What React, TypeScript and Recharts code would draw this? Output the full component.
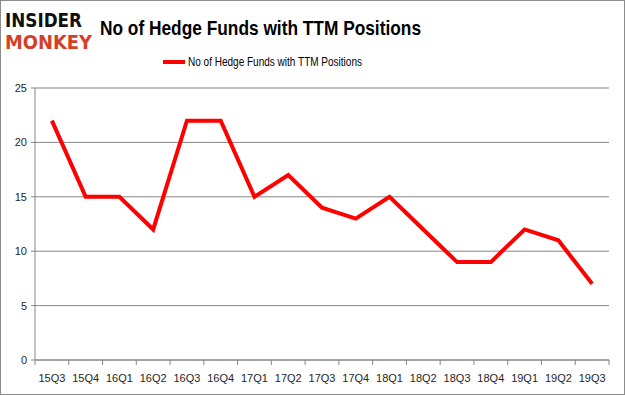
import { CartesianGrid, Line, LineChart, XAxis, YAxis } from "recharts";

const quarters = [
  "15Q3", "15Q4", "16Q1", "16Q2", "16Q3", "16Q4", "17Q1", "17Q2", "17Q3",
  "17Q4", "18Q1", "18Q2", "18Q3", "18Q4", "19Q1", "19Q2", "19Q3",
];
const funds = [22, 15, 15, 12, 22, 22, 15, 17, 14, 13, 15, 12, 9, 9, 12, 11, 7];
const yTicks = [0, 5, 10, 15, 20, 25];
const seriesName = "No of Hedge Funds with TTM Positions";

const W = 625;
const H = 395;
const M = { top: 88, right: 16, left: 0, bottom: 0 };
const Y_W = 35;
const X_H = 35;
const band = (W - Y_W - M.right) / quarters.length;

const data = quarters.map((q, i) => ({ q, v: funds[i] }));

// Excel-style axis: tick marks sit on category boundaries, labels in the middle
function XTick(props: any) {
  const { x, y, payload, index } = props;
  const axisY = y - 8;
  const left = x - band / 2;
  return (
    <g>
      <line x1={left} x2={left} y1={axisY} y2={axisY + 5} stroke="#868686" />
      {index === quarters.length - 1 && (
        <line x1={left + band} x2={left + band} y1={axisY} y2={axisY + 5} stroke="#868686" />
      )}
      <text x={x} y={axisY + 22} textAnchor="middle" fontSize={11} fill="#262626"
        fontFamily="'Liberation Sans', Arial, sans-serif">
        {payload.value}
      </text>
    </g>
  );
}

export default function App() {
  return (
    <div style={{ position: "absolute", left: 0, top: 0, width: W, height: H, background: "#fff" }}>
      <LineChart width={W} height={H} data={data} margin={M}>
        <CartesianGrid vertical={false} stroke="#868686" />
        <XAxis
          dataKey="q"
          scale="band"
          height={X_H}
          interval={0}
          stroke="#868686"
          tickLine={false}
          tick={<XTick />}
        />
        <YAxis
          width={Y_W}
          domain={[0, 25]}
          ticks={yTicks}
          stroke="#868686"
          tickSize={4}
          tickMargin={4}
          tick={{ fill: "#262626", fontSize: 11, fontFamily: "'Liberation Sans', Arial, sans-serif" }}
        />
        <Line
          dataKey="v"
          stroke="#ff0000"
          strokeWidth={4}
          dot={false}
          type="linear"
          isAnimationActive={false}
        />
      </LineChart>
      <svg width={W} height={H} style={{ position: "absolute", left: 0, top: 0, pointerEvents: "none" }}>
        <rect x={0.5} y={0.5} width={W - 1} height={H - 1} fill="none" stroke="#8c8c8c" />
        <text x={5} y={27} fontSize={19} fontWeight="bold" fill="#111"
          fontFamily="'DejaVu Sans', sans-serif" textLength={77} lengthAdjust="spacingAndGlyphs">
          INSIDER
        </text>
        <text x={5} y={49} fontSize={19} fontWeight="bold" fill="#d63f27"
          fontFamily="'DejaVu Sans', sans-serif" textLength={87} lengthAdjust="spacingAndGlyphs">
          MONKEY
        </text>
        <text x={100} y={35} fontSize={21} fontWeight="bold" fill="#000"
          fontFamily="'Liberation Sans', Arial, sans-serif" textLength={321} lengthAdjust="spacingAndGlyphs">
          No of Hedge Funds with TTM Positions
        </text>
        <line x1={163} x2={185} y1={62} y2={62} stroke="#ff0000" strokeWidth={4} />
        <text x={188} y={66} fontSize={12} fill="#000"
          fontFamily="'Liberation Sans', Arial, sans-serif" textLength={174} lengthAdjust="spacingAndGlyphs">
          {seriesName}
        </text>
      </svg>
    </div>
  );
}
